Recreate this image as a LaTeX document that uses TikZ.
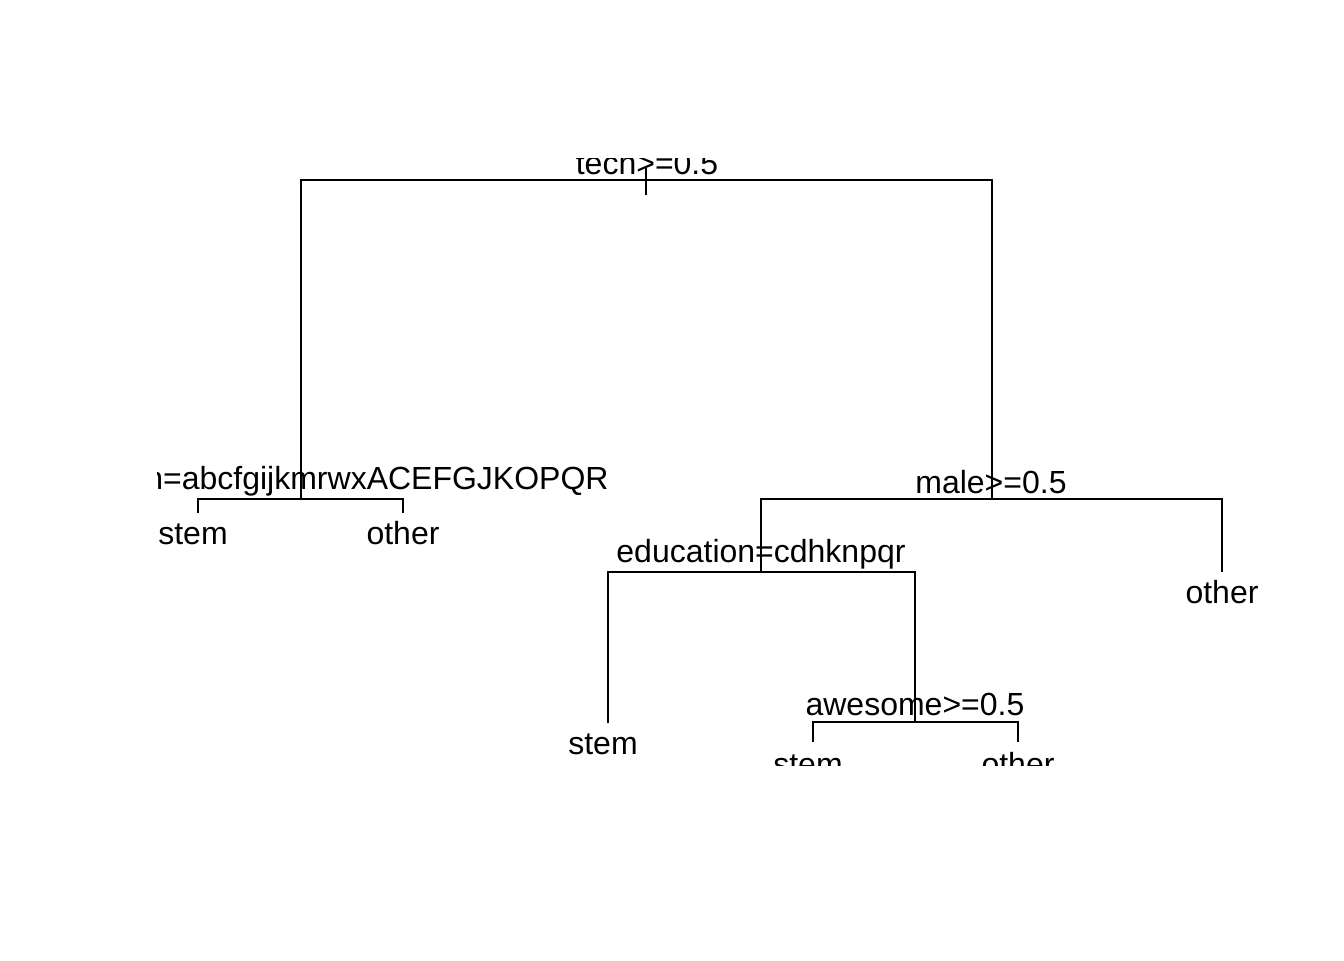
\documentclass[tikz,border=0pt]{standalone}
\usepackage{fontspec}
\setmainfont{Liberation Sans}
\begin{document}
\begin{tikzpicture}[x=0.5pt,y=-0.5pt,
  branch/.style={line width=1pt, line cap=butt},
  lbl/.style={inner sep=0pt, anchor=base, font=\fontsize{16}{19}\selectfont}]
\useasboundingbox[fill=white] (0,0) rectangle (1344,960);
\begin{scope}
\clip (157,158) rectangle (1264,765);
% junctions
\coordinate (rtop) at (646,168);
\coordinate (rbot) at (646,195);
\coordinate (L1) at (301,180);
\coordinate (R1) at (992,180);
\coordinate (L1b) at (301,499);
\coordinate (LL) at (198,499);
\coordinate (LR) at (403,499);
\coordinate (LLe) at (198,513);
\coordinate (LRe) at (403,513);
\coordinate (R1b) at (992,499);
\coordinate (RL) at (761,499);
\coordinate (RR) at (1222,499);
\coordinate (RRe) at (1222,572);
\coordinate (RLb) at (761,572);
\coordinate (EL) at (608,572);
\coordinate (ER) at (915,572);
\coordinate (ELe) at (608,723);
\coordinate (ERb) at (915,722);
\coordinate (AL) at (813,722);
\coordinate (AR) at (1018,722);
\coordinate (ALe) at (813,742);
\coordinate (ARe) at (1018,742);
% branches
\draw[branch] (rtop) -- (rbot);
\draw[branch] (L1b) -- (L1) -- (R1) -- (R1b);
\draw[branch] (LLe) -- (LL) -- (LR) -- (LRe);
\draw[branch] (RLb) -- (RL) -- (RR) -- (RRe);
\draw[branch] (ELe) -- (EL) -- (ER) -- (ERb);
\draw[branch] (ALe) -- (AL) -- (AR) -- (ARe);
% labels
\node[lbl] (ntech) at (647,174) {tech>=0.5};
\node[lbl, anchor=base east] (nleft) at (609,489) {n=abcfgijkmrwxACEFGJKOPQR};
\node[lbl] (nstem1) at (193,544) {stem};
\node[lbl] (nother1) at (403,544) {other};
\node[lbl] (nmale) at (991,493) {male>=0.5};
\node[lbl] (nedu) at (761,562) {education=cdhknpqr};
\node[lbl] (nother2) at (1222,603) {other};
\node[lbl] (nstem2) at (603,754) {stem};
\node[lbl] (nawe) at (915,715) {awesome>=0.5};
\node[lbl] (nstem3) at (808,775) {stem};
\node[lbl] (nother3) at (1018,775) {other};
\end{scope}
\end{tikzpicture}
\end{document}
